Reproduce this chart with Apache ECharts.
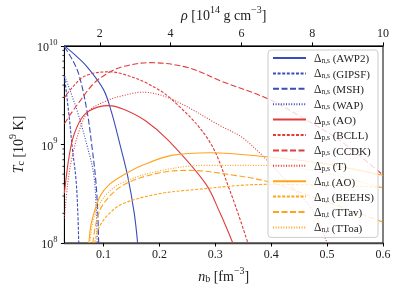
<!DOCTYPE html>
<html><head><meta charset="utf-8">
<script src="https://cdn.jsdelivr.net/npm/echarts@6/dist/echarts.min.js"></script>
<style>html,body{margin:0;padding:0;background:#fff}#c{width:399px;height:290px}</style>
</head><body><div id="c"></div>
<script>
// axis ranges and ticks
const nRange = [0.03, 0.6];
const rhoRange = [1, 10];
const tRange = [1e8, 1e10];
const nTicks = [0.1, 0.2, 0.3, 0.4, 0.5, 0.6];
const rhoTicks = [2, 4, 6, 8, 10];
const tMinorTicks = [2e8,3e8,4e8,5e8,6e8,7e8,8e8,9e8,2e9,3e9,4e9,5e9,6e9,7e9,8e9,9e9];

// neutron singlet [n_b (fm^-3), Tc (K)]
const ns_AWP2 = [[0.030,1.0e10],[0.050,8.0e9],[0.071,6.1e9],[0.100,3.6e9],[0.114,2.15e9],[0.129,1.02e9],[0.1435,4.7e8],[0.155,2.0e8],[0.161,1.0e8]];
const ns_GIPSF = [[0.030,5.0e9],[0.039,1.8e9],[0.0443,9.0e8],[0.0508,4.4e8],[0.0539,2.1e8],[0.0557,1.0e8]];
const ns_MSH = [[0.030,9.8e9],[0.045,7.1e9],[0.0565,5.0e9],[0.071,2.1e9],[0.079,9.8e8],[0.086,4.4e8],[0.0896,2.1e8],[0.0913,1.0e8]];
const ns_WAP = [[0.031,4.9e9],[0.042,3.3e9],[0.0539,2.1e9],[0.0704,9.8e8],[0.0826,4.9e8],[0.087,2.1e8],[0.0887,1.0e8]];
// proton singlet
const ps_AO = [[0.030,3.2e8],[0.042,9.8e8],[0.0565,1.68e9],[0.074,2.19e9],[0.1087,2.48e9],[0.1348,2.29e9],[0.175,1.74e9],[0.216,1.10e9],[0.2826,4.0e8],[0.3087,2.0e8],[0.3313,1.0e8]];
const ps_BCLL = [[0.030,2.99e9],[0.0478,4.0e9],[0.0682,5.0e9],[0.1087,5.46e9],[0.1348,5.18e9],[0.178,4.17e9],[0.2217,2.88e9],[0.2883,1.10e9],[0.3261,3.4e8],[0.3583,1.0e8]];
const ps_CCDK = [[0.030,1.62e9],[0.0426,2.09e9],[0.0565,2.69e9],[0.0826,4.17e9],[0.1087,5.33e9],[0.1348,6.17e9],[0.1812,6.76e9],[0.2508,6.03e9],[0.3087,4.43e9],[0.3957,2.88e9],[0.4565,1.86e9],[0.5226,1.10e9],[0.600,4.9e8]];
const ps_T = [[0.030,1.78e8],[0.0357,3.9e8],[0.0426,6.9e8],[0.0565,1.38e9],[0.0739,2.19e9],[0.1087,2.82e9],[0.1348,3.13e9],[0.1696,3.39e9],[0.2217,2.88e9],[0.3087,1.55e9],[0.3551,1.10e9],[0.4391,3.6e8],[0.4739,2.15e8],[0.500,1.0e8]];
// neutron triplet
const nt_AO = [[0.0739,1.0e8],[0.0774,1.51e8],[0.0843,2.14e8],[0.0948,3.05e8],[0.1087,3.85e8],[0.1348,4.86e8],[0.1696,6.14e8],[0.2217,7.74e8],[0.2913,8.24e8],[0.3957,7.45e8],[0.4913,6.43e8],[0.600,4.86e8]];
const nt_BEEHS = [[0.0843,1.0e8],[0.0913,1.41e8],[0.1087,1.95e8],[0.1348,2.51e8],[0.1957,3.13e8],[0.2508,3.43e8],[0.3957,3.94e8],[0.600,3.68e8]];
const nt_TTav = [[0.0809,1.0e8],[0.0878,1.7e8],[0.100,2.51e8],[0.1348,3.85e8],[0.1957,5.09e8],[0.2508,5.46e8],[0.3348,4.86e8],[0.3957,4.16e8],[0.4913,2.72e8],[0.600,1.63e8]];
const nt_TToa = [[0.0757,1.0e8],[0.0809,1.62e8],[0.0913,2.4e8],[0.1087,3.27e8],[0.1348,4.13e8],[0.1957,5.33e8],[0.2826,6.14e8],[0.3957,6.14e8],[0.4913,5.21e8],[0.600,3.6e8]];

const BLUE = '#3b4cb8', RED = '#e03c3c', ORANGE = '#ffa31a';
const SOLID = 'solid', DASH = [3, 1.6], LDASH = [6, 2.5], DOT = [1, 1.6];
const FONT = '"Liberation Serif", "DejaVu Serif", serif';

const curves = [
  ['n,s|AWP2', ns_AWP2, BLUE, SOLID],
  ['n,s|GIPSF', ns_GIPSF, BLUE, DASH],
  ['n,s|MSH', ns_MSH, BLUE, LDASH],
  ['n,s|WAP', ns_WAP, BLUE, DOT],
  ['p,s|AO', ps_AO, RED, SOLID],
  ['p,s|BCLL', ps_BCLL, RED, DASH],
  ['p,s|CCDK', ps_CCDK, RED, LDASH],
  ['p,s|T', ps_T, RED, DOT],
  ['n,t|AO', nt_AO, ORANGE, SOLID],
  ['n,t|BEEHS', nt_BEEHS, ORANGE, DASH],
  ['n,t|TTav', nt_TTav, ORANGE, LDASH],
  ['n,t|TToa', nt_TToa, ORANGE, DOT]
];

const series = curves.map(([name, data, color, type]) => ({
  name, type: 'line', data, xAxisIndex: 0, yAxisIndex: 0,
  symbol: 'none', showSymbol: false, smooth: 0.35, silent: true,
  lineStyle: { color, width: 1.1, type }, itemStyle: { color },
  z: 2
}));

series.push({
  type: 'custom', name: 'minor', xAxisIndex: 0, yAxisIndex: 0, silent: true, clip: false,
  data: tMinorTicks.map(v => [nRange[0], v]),
  renderItem: (params, api) => {
    const p = api.coord([api.value(0), api.value(1)]);
    return { type: 'line', shape: { x1: p[0] - 2, y1: p[1], x2: p[0], y2: p[1] },
             style: { stroke: '#000', lineWidth: 0.8 } };
  },
  z: 5
});

const txt = { fontFamily: FONT, color: '#222' };
const nameRich = {
  i: { ...txt, fontSize: 14, fontStyle: 'italic', lineHeight: 18, verticalAlign: 'bottom' },
  r: { ...txt, fontSize: 14, lineHeight: 18, verticalAlign: 'bottom' },
  s: { ...txt, fontSize: 10, lineHeight: 9, verticalAlign: 'bottom' },
  p: { ...txt, fontSize: 10, lineHeight: 9, verticalAlign: 'top' }
};

const option = {
  animation: false,
  backgroundColor: '#fff',
  grid: { left: 56, right: 16, top: 45, bottom: 47, show: true, borderColor: '#000', borderWidth: 1, backgroundColor: 'transparent' },
  legend: {
    data: curves.map(c => c[0]),
    left: 268, top: 50, orient: 'vertical',
    itemWidth: 33, itemHeight: 12, itemGap: 3.4,
    padding: [3, 4, 3, 4],
    itemStyle: { opacity: 0 },
    backgroundColor: 'rgba(255,255,255,0.8)', borderColor: '#cccccc', borderWidth: 1, borderRadius: 3,
    formatter: name => { const [sub, lab] = name.split('|'); return '{d|Δ}{s|' + sub + '}{t| (' + lab + ')}'; },
    textStyle: {
      rich: {
        d: { ...txt, fontSize: 11.5, lineHeight: 14, verticalAlign: 'bottom', padding: [0, 0, 0, 3] },
        s: { ...txt, fontSize: 7.5, lineHeight: 7, verticalAlign: 'bottom' },
        t: { ...txt, fontSize: 11, lineHeight: 14, verticalAlign: 'bottom' }
      }
    },
    z: 10
  },
  xAxis: [
    {
      type: 'value', min: nRange[0], max: nRange[1], position: 'bottom',
      axisLine: { show: true, lineStyle: { color: '#444', width: 1.4 } },
      axisTick: { show: true, length: 3.5, lineStyle: { color: '#000' }, customValues: nTicks },
      axisLabel: { customValues: nTicks, formatter: v => String(+v.toFixed(1)), margin: 6, fontFamily: FONT, fontSize: 12, color: '#222' },
      splitLine: { show: false },
      name: '{i|n}{s|b}{r| [fm}{p|−3}{r|]}', nameLocation: 'middle', nameGap: 22,
      nameTextStyle: { rich: nameRich }
    },
    {
      type: 'value', min: rhoRange[0], max: rhoRange[1], position: 'top',
      axisLine: { show: true, lineStyle: { color: '#000', width: 1 } },
      axisTick: { show: true, length: 3.5, lineStyle: { color: '#000' }, customValues: rhoTicks },
      axisLabel: { customValues: rhoTicks, margin: 6, fontFamily: FONT, fontSize: 12, color: '#222' },
      splitLine: { show: false },
      name: '{i|ρ}{r| [10}{p|14}{r| g cm}{p|−3}{r|]}', nameLocation: 'middle', nameGap: 17,
      nameTextStyle: { rich: nameRich }
    }
  ],
  yAxis: [
    {
      type: 'log', logBase: 10, min: tRange[0], max: tRange[1],
      axisLine: { show: true, lineStyle: { color: '#000', width: 1 } },
      axisTick: { show: true, length: 3.5, lineStyle: { color: '#000' } },
      axisLabel: {
        margin: 7,
        formatter: v => '{b|10}{p|' + Math.round(Math.log10(v)) + '}',
        rich: {
          b: { ...txt, fontSize: 12, lineHeight: 16, verticalAlign: 'bottom' },
          p: { ...txt, fontSize: 8.5, lineHeight: 8, verticalAlign: 'top' }
        }
      },
      splitLine: { show: false }, minorTick: { show: false },
      name: '{i|T}{s|c}{r| [10}{p|9}{r| K]}', nameLocation: 'middle', nameGap: 31, nameRotate: 90,
      nameTextStyle: { rich: nameRich }
    }
  ],
  series
};

const chart = echarts.init(document.getElementById('c'), null, { renderer: 'canvas' });
chart.setOption(option);
</script></body></html>
